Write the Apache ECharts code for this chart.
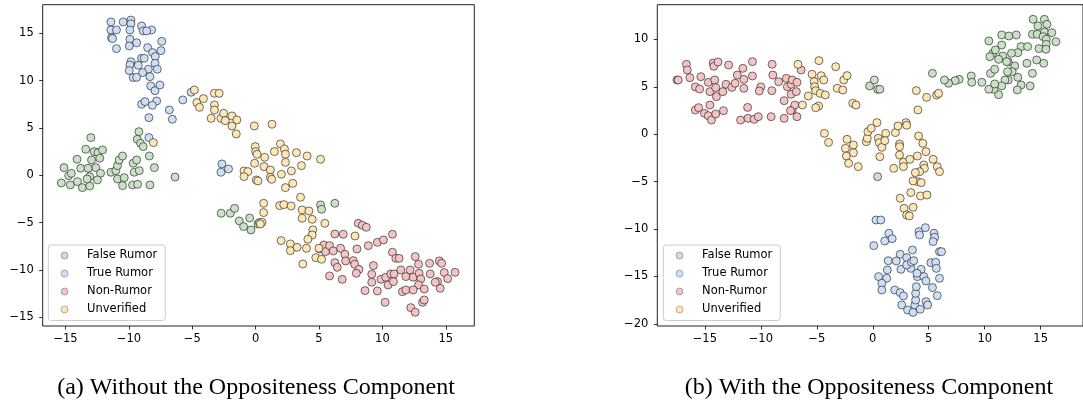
<!DOCTYPE html>
<html>
<head>
<meta charset="utf-8">
<script src="https://cdn.jsdelivr.net/npm/echarts/dist/echarts.min.js"></script>
<style>
  html, body { margin: 0; padding: 0; background: #fff; }
  #chart { width: 1083px; height: 410px; }
</style>
</head>
<body>
<div id="chart"></div>
<script>
// (a) without the oppositeness component
const falseRumorA = [
  [-15.12, 0.81], [-14.75, -0.04], [-14.54, 0.21], [-15.33, -0.81], [-14.62, -1.02], [-14.06, -0.67],
  [-13.67, -1.3], [-13.09, -1.13], [-13.09, -0.14], [-13.3, -0.39], [-13.8, 0.74], [-14.09, 1.69],
  [-13.4, 2.75], [-13.0, 3.98], [-12.74, 2.5], [-12.43, 2.39], [-12.3, 1.8], [-12.08, 2.68],
  [-12.61, 0.81], [-12.24, 0.21], [-12.48, -0.49], [-13.22, 0.74], [-12.95, 1.62],
  [-11.42, 0.32], [-11.03, 0.49], [-10.9, 1.02], [-10.77, 1.62], [-10.5, 2.04], [-10.5, -1.09],
  [-10.9, -0.39], [-10.37, -0.25], [-9.71, -1.02], [-9.31, -0.95], [-9.58, 0.32], [-9.18, 0.49],
  [-9.66, 1.27], [-9.39, 1.62], [-9.21, 4.61], [-9.34, 3.8], [-9.08, 3.38], [-8.87, 3.03],
  [-8.39, 2.04], [-7.99, 0.81], [-8.34, -1.02], [-6.36, -0.18],
  [-2.72, -4.01], [-2.0, -4.01], [-1.66, -3.49], [-1.29, -4.82], [-0.95, -5.42], [-0.47, -4.51],
  [-0.37, -5.77], [0.18, -5.14], [0.29, -5.0], [5.12, -3.13], [5.2, -3.59], [6.25, -2.96]
];
const trueRumorA = [
  [-11.42, 16.2], [-10.45, 16.2], [-9.84, 16.4], [-9.84, 16.0], [-11.42, 15.35], [-10.98, 15.35],
  [-9.92, 15.35], [-9.0, 15.77], [-8.21, 15.35], [-8.87, 15.25], [-8.6, 15.25], [-11.37, 14.54],
  [-11.29, 14.44], [-10.98, 13.38], [-9.92, 14.37], [-9.97, 13.66], [-9.39, 14.0], [-7.41, 14.15],
  [-7.47, 13.17], [-8.52, 13.49], [-8.13, 12.96], [-7.92, 12.54], [-9.0, 12.36], [-8.79, 12.36],
  [-9.84, 12.0], [-9.92, 11.65], [-9.26, 11.62], [-7.94, 11.83], [-9.97, 11.06], [-8.47, 11.2],
  [-7.76, 11.2], [-9.66, 10.32], [-8.92, 10.85], [-9.39, 10.35], [-8.34, 10.42], [-8.28, 9.44],
  [-7.94, 8.94], [-7.55, 9.54], [-9.0, 7.5], [-8.73, 7.78], [-7.81, 7.85], [-8.15, 7.39],
  [-8.42, 6.09], [-6.81, 6.9], [-6.57, 5.92], [-5.75, 7.96], [-5.09, 8.77], [-8.42, 3.98],
  [-2.66, 1.2], [-2.74, 0.32], [-2.14, 0.67]
];
const nonRumorA = [
  [8.1, -5.07], [8.42, -5.28], [8.73, -5.49], [6.25, -6.2], [6.91, -6.23], [9.6, -7.08],
  [10.08, -6.83], [10.79, -6.23], [5.04, -7.78], [5.38, -7.36], [5.51, -8.06], [5.83, -7.43],
  [6.12, -7.99], [6.7, -7.71], [7.04, -8.35], [7.99, -7.78], [8.89, -7.43], [10.79, -8.13],
  [11.06, -8.77], [11.32, -8.77], [12.59, -8.59], [6.25, -9.23], [6.44, -9.72], [7.1, -9.05],
  [7.7, -9.01], [7.81, -9.4], [8.15, -9.93], [7.94, -10.35], [9.29, -9.54], [5.83, -10.63],
  [6.83, -10.99], [9.16, -10.46], [9.16, -11.3], [8.63, -12.18], [9.6, -12.22], [9.89, -10.99],
  [10.26, -10.77], [10.45, -11.58], [10.66, -10.42], [10.87, -11.23], [10.92, -10.42], [11.45, -10.0],
  [11.85, -10.7], [12.19, -10.0], [12.43, -10.77], [12.9, -10.35], [13.03, -10.95], [12.85, -11.58],
  [13.3, -12.01], [13.77, -10.42], [13.72, -9.3], [12.85, -9.4], [14.49, -9.05], [14.67, -9.3],
  [14.88, -10.28], [15.15, -10.92], [14.35, -11.23], [14.56, -11.94], [14.17, -11.3], [15.73, -10.25],
  [11.58, -12.29], [11.85, -12.11], [12.43, -12.11], [10.21, -13.42], [12.24, -13.98], [12.59, -14.47],
  [13.17, -13.42], [13.3, -13.17]
];
const unverifiedA = [
  [-4.83, 9.01], [-4.64, 7.68], [-4.43, 7.18], [-4.12, 8.1], [-3.25, 8.66], [-2.88, 8.66],
  [-3.25, 7.43], [-3.25, 6.9], [-3.51, 6.02], [-2.74, 6.02], [-2.53, 6.55], [-2.4, 5.77],
  [-1.87, 6.27], [-1.48, 5.85], [-1.87, 5.21], [-1.53, 4.37], [-0.11, 5.21], [1.29, 5.39],
  [-8.07, 3.45],
  [-0.03, 3.03], [0.0, 2.5], [0.11, 2.22], [0.71, 1.9], [1.48, 2.5], [1.95, 3.31],
  [2.27, 2.78], [2.35, 2.22], [2.35, 1.37], [3.22, 2.39], [4.06, 2.04], [5.12, 1.69],
  [-0.08, 1.27], [0.66, 0.92], [1.16, 0.56], [-0.92, 0.46], [-0.61, 0.39], [-0.92, -0.14],
  [0.05, -0.49], [0.18, -0.6], [1.16, -0.21], [1.27, -0.42], [2.03, 0.11], [2.82, 0.46],
  [3.61, 1.02], [2.35, -1.3], [2.93, -0.85], [3.54, -2.32], [1.9, -3.2], [2.22, -3.1],
  [2.8, -3.24], [0.63, -2.96], [0.63, -3.94], [0.5, -4.96], [0.37, -5.14], [3.67, -3.66],
  [4.2, -3.77], [3.67, -4.54], [4.46, -4.65], [5.46, -5.07], [4.51, -5.77], [4.46, -6.3],
  [4.12, -6.76], [2.01, -6.9], [2.74, -7.25], [2.74, -7.96], [3.27, -7.61], [4.01, -7.71],
  [4.99, -7.71], [4.75, -8.7], [5.2, -8.87], [3.72, -9.37], [7.84, -6.41]
];

// (b) with the oppositeness component
const falseRumorB = [
  [14.32, 12.13], [15.33, 12.13], [15.56, 11.6], [14.75, 11.43], [14.26, 10.55], [14.69, 10.55],
  [15.33, 10.79], [15.99, 10.72], [15.21, 10.3], [15.5, 10.02], [16.36, 9.77], [15.5, 9.49],
  [14.84, 9.04], [15.47, 8.97], [15.27, 7.49], [14.64, 7.84], [13.77, 7.49], [14.26, 6.43],
  [14.06, 5.1], [13.25, 9.25], [12.96, 8.61], [13.83, 9.25], [12.39, 8.54], [12.68, 7.21],
  [12.1, 7.63], [11.61, 8.26], [12.1, 5.73], [12.96, 6.01], [13.25, 5.2], [12.91, 4.68],
  [12.45, 6.61], [12.04, 6.61], [11.81, 5.73], [11.52, 5.1], [11.24, 4.18], [10.8, 4.75],
  [10.37, 4.75], [10.89, 5.31], [10.52, 6.43], [10.89, 6.86], [11.24, 7.91], [10.72, 8.54],
  [10.95, 8.9], [10.46, 8.19], [11.52, 9.42], [11.52, 10.48], [12.16, 10.37], [12.82, 10.48],
  [10.37, 9.85], [11.96, 7.66], [8.79, 6.15], [8.84, 5.49], [9.74, 5.49], [7.72, 5.8],
  [7.35, 5.66], [6.77, 5.38], [6.4, 5.73], [5.33, 6.43], [-0.29, 5.1], [0.14, 5.73],
  [0.43, 4.75], [0.63, 4.75], [0.43, -4.47]
];
const trueRumorB = [
  [0.29, -9.04], [0.72, -9.04], [0.09, -11.74], [1.07, -11.25], [1.44, -10.44], [1.73, -11.01],
  [4.12, -10.27], [4.18, -10.62], [4.7, -9.85], [5.47, -10.44], [5.53, -10.86], [5.39, -11.32],
  [5.96, -12.38], [6.14, -12.38], [3.54, -12.2], [2.45, -12.66], [3.03, -13.01], [2.1, -13.36],
  [2.51, -14.24], [1.38, -13.33], [1.3, -14.31], [0.52, -15.01], [1.24, -15.19], [0.81, -15.72],
  [0.81, -16.42], [1.96, -16.42], [2.45, -16.7], [2.74, -17.05], [2.59, -18.0], [3.11, -18.53],
  [3.6, -18.78], [3.75, -18.0], [3.83, -17.48], [3.83, -16.77], [3.89, -16.07], [3.98, -15.01],
  [3.4, -14.14], [3.03, -13.78], [3.46, -13.5], [3.66, -13.33], [4.32, -14.24], [4.55, -15.01],
  [4.75, -15.47], [5.19, -13.54], [5.62, -13.5], [5.68, -14.14], [5.96, -15.19], [5.33, -16.17],
  [5.76, -17.02], [4.75, -17.65], [4.9, -18.0], [4.24, -18.46], [3.95, -14.66]
];
const nonRumorB = [
  [-17.49, 5.73], [-17.38, 5.73], [-16.65, 7.38], [-16.57, 6.78], [-16.34, 5.97], [-15.85, 5.0],
  [-15.47, 4.78], [-15.36, 6.08], [-14.55, 3.09], [-15.85, 2.56], [-15.56, 2.81], [-15.04, 2.21],
  [-14.69, 1.96], [-14.41, 1.5], [-14.03, 2.14], [-13.34, 2.49], [-14.69, 5.48], [-14.55, 4.5],
  [-14.26, 7.52], [-14.2, 7.17], [-13.83, 7.63], [-14.12, 5.73], [-14.03, 4.92], [-13.97, 3.97],
  [-13.4, 4.5], [-13.11, 5.27], [-12.88, 7.31], [-12.59, 4.95], [-12.3, 5.38], [-12.1, 6.25],
  [-11.61, 6.96], [-11.52, 5.8], [-11.52, 4.85], [-11.18, 2.84], [-11.81, 1.5], [-11.15, 1.68],
  [-10.6, 1.58], [-10.23, 1.86], [-10.75, 7.66], [-10.75, 6.15], [-10.0, 5.0], [-10.14, 4.57],
  [-8.99, 7.38], [-8.93, 6.25], [-9.02, 4.6], [-9.08, 1.86], [-8.41, 5.55], [-7.92, 1.68],
  [-7.92, 3.55], [-7.72, 5.9], [-7.63, 5.02], [-7.29, 5.27], [-7.2, 5.73], [-7.29, 4.22],
  [-7.2, 2.56], [-6.97, 3.09], [-6.77, 1.86], [-6.83, 4.5], [-6.77, 5.48], [-6.4, 6.78],
  [-7.35, 2.49]
];
const unverifiedB = [
  [-6.68, 7.38], [-6.28, 3.09], [-5.76, 4.04], [-5.42, 6.33], [-5.24, 5.55], [-5.19, 5.02],
  [-5.1, 4.6], [-4.84, 2.98], [-5.1, 2.81], [-4.81, 7.77], [-4.61, 6.18], [-4.38, 5.73],
  [-4.7, 4.32], [-4.24, 4.15], [-3.31, 7.13], [-3.17, 4.85], [-2.68, 4.67], [-2.59, 5.73],
  [-2.3, 6.19], [-1.79, 3.27], [-1.5, 3.09], [-4.32, 0.1], [-3.95, -0.85], [-2.3, -0.53],
  [-2.45, -1.48], [-2.36, -2.29], [-1.73, -1.13], [-1.73, -1.94], [-2.16, -3.06], [-1.3, -3.41],
  [-0.58, -0.78], [-0.49, -0.42], [-0.43, 0.28], [-0.14, 0.63], [0.37, 1.23], [0.49, -0.42],
  [0.63, -2.36], [0.58, -0.88], [0.81, -1.37], [1.15, 0.1], [1.07, -0.67],
  [2.02, 0.18], [2.25, 0.88], [2.39, -1.02], [2.39, -1.3], [2.39, -2.18], [1.87, -3.59],
  [2.74, -2.95], [2.74, -3.41], [2.97, 1.23], [3.03, 0.95], [3.31, -2.64], [3.89, 4.61],
  [4.03, 2.57], [4.09, -0.18], [3.98, -2.29], [4.47, -0.95], [4.75, -1.83], [4.55, -3.23],
  [4.61, -3.59], [4.18, -3.94], [3.8, -4.04], [3.98, -4.99], [4.32, -5.1], [3.6, -4.92],
  [5.39, -2.64], [5.76, -3.41], [5.96, -3.94], [4.81, 3.9], [5.7, 4.15], [5.88, 4.32],
  [3.4, -6.15], [4.26, -6.5], [4.84, -6.4], [2.45, -6.75], [2.79, -7.81], [3.6, -7.7],
  [3.03, -8.51], [3.26, -8.61]
];

const classNames = ['False Rumor', 'True Rumor', 'Non-Rumor', 'Unverified'];
const classColors = ['#c9e1c5', '#cddff6', '#f4c4c4', '#fee7b6'];
const ticksA = { x: [-15, -10, -5, 0, 5, 10, 15], y: [-15, -10, -5, 0, 5, 10, 15] };
const ticksB = { x: [-15, -10, -5, 0, 5, 10, 15], y: [-20, -15, -10, -5, 0, 5, 10] };
const captions = ['(a) Without the Oppositeness Component', '(b) With the Oppositeness Component'];

const chart = echarts.init(document.getElementById('chart'), null, { renderer: 'canvas' });

function fmt(v) {
  return v < 0 ? '\u2212' + Math.abs(v) : String(v);
}

function makeAxis(idx, type, min, max, ticks) {
  const isX = type === 'x';
  return {
    type: 'value',
    gridIndex: idx,
    min: min,
    max: max,
    splitLine: { show: false },
    axisLine: { show: false, onZero: false },
    axisTick: { show: true, inside: false, length: 3.5, customValues: ticks, lineStyle: { color: '#000', width: 0.8 } },
    axisLabel: {
      customValues: ticks,
      formatter: fmt,
      margin: isX ? 7 : 9,
      color: '#000',
      fontFamily: 'DejaVu Sans',
      fontSize: 11.5,
      showMinLabel: true,
      showMaxLabel: true
    }
  };
}

function makeLegend(left) {
  return {
    left: left,
    top: 245,
    orient: 'vertical',
    data: classNames,
    icon: 'circle',
    itemWidth: 7,
    itemHeight: 7,
    itemGap: 4,
    padding: [3.5, 8, 4, 12.5],
    backgroundColor: '#fff',
    borderColor: '#cccccc',
    borderWidth: 1,
    borderRadius: 3,
    selectedMode: false,
    itemStyle: { borderColor: 'rgba(0,0,0,0.55)', borderWidth: 0.5 },
    textStyle: { fontFamily: 'DejaVu Sans', fontSize: 11.5, color: '#000', lineHeight: 14, padding: [0, 0, 0, 14] }
  };
}

const groups = [
  [falseRumorA, trueRumorA, nonRumorA, unverifiedA],
  [falseRumorB, trueRumorB, nonRumorB, unverifiedB]
];
const series = [];
groups.forEach(function (sets, g) {
  sets.forEach(function (pts, c) {
    series.push({
      name: classNames[c],
      type: 'scatter',
      xAxisIndex: g,
      yAxisIndex: g,
      data: pts,
      symbol: 'circle',
      symbolSize: 8,
      itemStyle: { color: classColors[c], borderColor: 'rgba(0,0,0,0.78)', borderWidth: 0.7, opacity: 1 },
      emphasis: { disabled: true },
      animation: false
    });
  });
});

chart.setOption({
  backgroundColor: '#fff',
  animation: false,
  grid: [
    { left: 42.7, top: 4.7, width: 431.6, height: 321.3, show: true, borderColor: '#222', borderWidth: 1, backgroundColor: 'transparent' },
    { left: 657.3, top: 4.7, width: 440, height: 321.3, show: true, borderColor: '#222', borderWidth: 1, backgroundColor: 'transparent' }
  ],
  xAxis: [makeAxis(0, 'x', -16.8, 17.25, ticksA.x), makeAxis(1, 'x', -19.25, 18.78, ticksB.x)],
  yAxis: [makeAxis(0, 'y', -15.92, 18.02, ticksA.y), makeAxis(1, 'y', -20.22, 13.67, ticksB.y)],
  legend: [makeLegend(48.3), makeLegend(663.3)],
  title: [
    { text: captions[0], left: 251, top: 371, textAlign: 'center', textStyle: { fontFamily: 'Liberation Serif', fontSize: 24, fontWeight: 'normal', color: '#000' } },
    { text: captions[1], left: 864, top: 371, textAlign: 'center', textStyle: { fontFamily: 'Liberation Serif', fontSize: 24, fontWeight: 'normal', color: '#000' } }
  ],
  series: series
});
</script>
</body>
</html>
